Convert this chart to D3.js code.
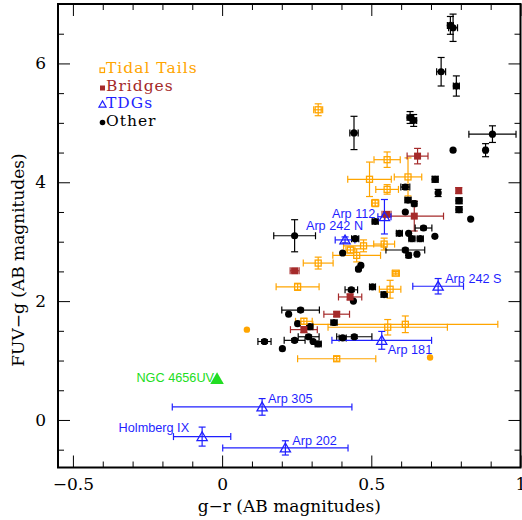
<!DOCTYPE html>
<html>
<head>
<meta charset="utf-8">
<script src="https://cdn.jsdelivr.net/npm/d3@7"></script>
<style>
  body { margin: 0; background: #fff; }
  svg { display: block; }
</style>
</head>
<body>
<svg id="chart" width="522" height="520"></svg>
<script>
// [g-r, FUV-g, err g-r, err FUV-g]
let tails = [
  [0.322, 5.22, 0.015, 0.10],
  [0.553, 4.38, 0.044, 0.13],
  [0.494, 4.05, 0.073, 0.29],
  [0.623, 4.09, 0.046, 0.32],
  [0.553, 3.88, 0.038, 0.08],
  [0.513, 3.65, 0.012, 0.06],
  [0.474, 2.93, 0.067, 0.10],
  [0.543, 2.96, 0.035, 0.10],
  [0.430, 2.86, 0.015, 0.05],
  [0.451, 2.77, 0.080, 0.11],
  [0.322, 2.64, 0.050, 0.10],
  [0.582, 2.47, 0.012, 0.03],
  [0.563, 2.20, 0.036, 0.15],
  [0.253, 2.24, 0.072, 0.06],
  [0.274, 1.66, 0.028, 0.05],
  [0.555, 1.56, 0.200, 0.13],
  [0.614, 1.61, 0.310, 0.14],
  [0.384, 1.03, 0.131, 0.04]
];
let tailsNoErr = [
  [0.083, 1.52],
  [0.697, 1.05]
];
let bridges = [
  [0.655, 4.44, 0.035, 0.13],
  [0.793, 3.86, 0.006, 0.05],
  [0.551, 3.46, 0.015, 0.03],
  [0.644, 3.43, 0.098, 0.25],
  [0.243, 2.51, 0.015, 0.03],
  [0.429, 2.07, 0.039, 0.05],
  [0.384, 1.78, 0.043, 0.04],
  [0.274, 1.52, 0.045, 0.05]
];
let tdgs = [
  [0.544, 3.42, 0.022, 0.29],
  [0.412, 3.03, 0.033, 0.05],
  [0.724, 2.25, 0.085, 0.13],
  [0.535, 1.34, 0.167, 0.15],
  [0.134, 0.22, 0.301, 0.14],
  [-0.067, -0.28, 0.096, 0.16],
  [0.212, -0.47, 0.210, 0.12]
];
let tdgNames = ['Arp 112', 'Arp 242 N', 'Arp 242 S', 'Arp 181', 'Arp 305', 'Holmberg IX', 'Arp 202'];
let ngc = [[-0.017, 0.67]];
let ngcName = 'NGC 4656UV';
let other = [
  [0.765, 6.64, 0.010, 0.15],
  [0.774, 6.60, 0.015, 0.23],
  [0.734, 5.86, 0.015, 0.24],
  [0.785, 5.62, 0.010, 0.17],
  [0.630, 5.09, 0.010, 0.10],
  [0.642, 5.04, 0.010, 0.10],
  [0.442, 4.83, 0.014, 0.28],
  [0.906, 4.81, 0.079, 0.14],
  [0.883, 4.54, 0.005, 0.11],
  [0.774, 4.54, 0, 0],
  [0.714, 4.05, 0.010, 0.05],
  [0.614, 3.92, 0.015, 0.04],
  [0.724, 3.82, 0.005, 0.06],
  [0.794, 3.69, 0.010, 0.05],
  [0.794, 3.54, 0.010, 0.05],
  [0.833, 3.38, 0, 0],
  [0.623, 3.70, 0.010, 0.04],
  [0.644, 3.64, 0.005, 0.04],
  [0.614, 3.50, 0, 0],
  [0.513, 3.34, 0.010, 0.03],
  [0.675, 3.23, 0.028, 0.03],
  [0.594, 3.14, 0.010, 0.03],
  [0.625, 3.14, 0, 0],
  [0.636, 3.05, 0.010, 0.03],
  [0.664, 3.05, 0.010, 0.03],
  [0.713, 3.09, 0, 0],
  [0.614, 2.86, 0.065, 0.03],
  [0.625, 2.77, 0.005, 0.04],
  [0.653, 2.79, 0, 0],
  [0.243, 3.10, 0.070, 0.27],
  [0.446, 3.05, 0.012, 0.03],
  [0.404, 2.81, 0, 0],
  [0.457, 2.54, 0.005, 0.03],
  [0.465, 2.60, 0, 0],
  [0.433, 2.19, 0.021, 0.03],
  [0.504, 2.24, 0.010, 0.03],
  [0.543, 2.11, 0.010, 0.04],
  [0.440, 2.00, 0, 0],
  [0.263, 1.85, 0.063, 0.03],
  [0.223, 1.78, 0, 0],
  [0.375, 1.64, 0.010, 0.03],
  [0.253, 1.62, 0, 0],
  [0.294, 1.57, 0.010, 0.03],
  [0.404, 1.38, 0.012, 0.03],
  [0.443, 1.40, 0.059, 0.03],
  [0.142, 1.32, 0.022, 0.03],
  [0.202, 1.20, 0, 0],
  [0.243, 1.34, 0.035, 0.03],
  [0.290, 1.40, 0.035, 0.03],
  [0.305, 1.32, 0, 0],
  [0.322, 1.28, 0.010, 0.03]
];
let legendNames = ['Tidal Tails', 'Bridges', 'TDGs', 'Other'];
let xMajor = [-0.5, 0, 0.5, 1];
let yMajor = [0, 2, 4, 6];

let orange = '#ffa500', brown = '#a52a2a', blue = '#1f1fff', green = '#22dd22';
let serif = "'DejaVu Serif', serif";
let sans = "'Liberation Sans', Arial, sans-serif";

let svg = d3.select('#chart');
let mLeft = 58, mRight = 520.5, mTop = 4, mBottom = 467.5;

let x = d3.scaleLinear().domain([-0.55, 1.0]).range([mLeft, mRight]);
let y = d3.scaleLinear().domain([-0.8, 7.0]).range([mBottom, mTop]);

let xMinor = d3.range(-5, 11).map(d => d / 10).filter(d => xMajor.indexOf(d) < 0);
let yMinor = d3.range(-1, 15).map(d => d / 2).filter(d => d >= -0.8 && yMajor.indexOf(d) < 0);

function axisStyle(g) {
  g.select('.domain').remove();
  g.selectAll('line').attr('stroke', '#000').attr('stroke-width', 1);
}

// bottom axis
svg.append('g').attr('transform', `translate(0,${mBottom})`)
  .call(d3.axisBottom(x).tickValues(xMajor).tickSize(-12).tickFormat(d3.format('~g')))
  .call(axisStyle)
  .call(g => g.selectAll('text').attr('y', 22).attr('dy', 0)
    .attr('font-family', serif).attr('font-size', 17).attr('fill', '#000'));
svg.append('g').attr('transform', `translate(0,${mBottom})`)
  .call(d3.axisBottom(x).tickValues(xMinor).tickSize(-6).tickFormat(''))
  .call(axisStyle);
// top axis
svg.append('g').attr('transform', `translate(0,${mTop})`)
  .call(d3.axisTop(x).tickValues(xMajor).tickSize(-12).tickFormat(''))
  .call(axisStyle);
svg.append('g').attr('transform', `translate(0,${mTop})`)
  .call(d3.axisTop(x).tickValues(xMinor).tickSize(-6).tickFormat(''))
  .call(axisStyle);
// left axis
svg.append('g').attr('transform', `translate(${mLeft},0)`)
  .call(d3.axisLeft(y).tickValues(yMajor).tickSize(-12).tickFormat(d3.format('~g')))
  .call(axisStyle)
  .call(g => g.selectAll('text').attr('x', -12)
    .attr('font-family', serif).attr('font-size', 17).attr('fill', '#000'));
svg.append('g').attr('transform', `translate(${mLeft},0)`)
  .call(d3.axisLeft(y).tickValues(yMinor).tickSize(-6).tickFormat(''))
  .call(axisStyle);
// right axis
svg.append('g').attr('transform', `translate(${mRight},0)`)
  .call(d3.axisRight(y).tickValues(yMajor).tickSize(-12).tickFormat(''))
  .call(axisStyle);
svg.append('g').attr('transform', `translate(${mRight},0)`)
  .call(d3.axisRight(y).tickValues(yMinor).tickSize(-6).tickFormat(''))
  .call(axisStyle);

// frame
svg.append('rect')
  .attr('x', mLeft).attr('y', mTop)
  .attr('width', mRight - mLeft).attr('height', mBottom - mTop)
  .attr('fill', 'none').attr('stroke', '#000').attr('stroke-width', 2);

// axis titles
svg.append('text')
  .attr('x', (mLeft + mRight) / 2).attr('y', 512)
  .attr('text-anchor', 'middle')
  .attr('font-family', serif).attr('font-size', 17)
  .text('g\u2212r (AB magnitudes)');
svg.append('text')
  .attr('transform', 'translate(24,260) rotate(-90)')
  .attr('text-anchor', 'middle')
  .attr('font-family', serif).attr('font-size', 17)
  .text('FUV\u2212g (AB magnitudes)');

// error bars
let cap = 3.5;
function errorBars(data, color) {
  let g = svg.append('g').attr('stroke', color).attr('stroke-width', 1.2).attr('fill', 'none');
  data.forEach(d => {
    let cx = x(d[0]), cy = y(d[1]);
    if (d[2] > 0) {
      let x0 = x(d[0] - d[2]), x1 = x(d[0] + d[2]);
      g.append('line').attr('x1', x0).attr('x2', x1).attr('y1', cy).attr('y2', cy);
      g.append('line').attr('x1', x0).attr('x2', x0).attr('y1', cy - cap).attr('y2', cy + cap);
      g.append('line').attr('x1', x1).attr('x2', x1).attr('y1', cy - cap).attr('y2', cy + cap);
    }
    if (d[3] > 0) {
      let y0 = y(d[1] - d[3]), y1 = y(d[1] + d[3]);
      g.append('line').attr('x1', cx).attr('x2', cx).attr('y1', y0).attr('y2', y1);
      g.append('line').attr('x1', cx - cap).attr('x2', cx + cap).attr('y1', y0).attr('y2', y0);
      g.append('line').attr('x1', cx - cap).attr('x2', cx + cap).attr('y1', y1).attr('y2', y1);
    }
  });
}

errorBars(tails, orange);
errorBars(bridges, brown);
errorBars(other, '#000');
errorBars(tdgs, blue);

// markers
svg.append('g').selectAll('circle').data(other).join('circle')
  .attr('cx', d => x(d[0])).attr('cy', d => y(d[1])).attr('r', 3.6).attr('fill', '#000');

svg.append('g').selectAll('rect').data(tails).join('rect')
  .attr('x', d => x(d[0]) - 3).attr('y', d => y(d[1]) - 3)
  .attr('width', 6).attr('height', 6)
  .attr('fill', 'none').attr('stroke', orange).attr('stroke-width', 1.3);

svg.append('g').selectAll('circle').data(tailsNoErr).join('circle')
  .attr('cx', d => x(d[0])).attr('cy', d => y(d[1])).attr('r', 3.2).attr('fill', orange);

svg.append('g').selectAll('rect').data(bridges).join('rect')
  .attr('x', d => x(d[0]) - 3.5).attr('y', d => y(d[1]) - 3.5)
  .attr('width', 7).attr('height', 7).attr('fill', brown);

let tri = d3.symbol().type(d3.symbolTriangle).size(45);
svg.append('g').selectAll('path').data(tdgs).join('path')
  .attr('transform', d => `translate(${x(d[0])},${y(d[1]) + 1})`)
  .attr('d', tri).attr('fill', 'none').attr('stroke', blue).attr('stroke-width', 1.3);

svg.append('g').selectAll('path').data(ngc).join('path')
  .attr('transform', d => `translate(${x(d[0])},${y(d[1])})`)
  .attr('d', d3.symbol().type(d3.symbolTriangle).size(80)).attr('fill', green);

// point labels: [dx, dy, anchor]
let labelPos = [
  [-9, 1, 'end'],
  [18, -10, 'end'],
  [7, -3, 'start'],
  [6, 14, 'start'],
  [6, -4, 'start'],
  [-13, -5, 'end'],
  [7, -3, 'start']
];
svg.append('g').selectAll('text').data(tdgs).join('text')
  .attr('x', (d, i) => x(d[0]) + labelPos[i][0])
  .attr('y', (d, i) => y(d[1]) + labelPos[i][1])
  .attr('text-anchor', (d, i) => labelPos[i][2])
  .attr('font-family', sans).attr('font-size', 12.7).attr('fill', blue)
  .text((d, i) => tdgNames[i]);
svg.append('text')
  .attr('x', x(ngc[0][0]) - 3).attr('y', y(ngc[0][1]) + 2)
  .attr('text-anchor', 'end')
  .attr('font-family', sans).attr('font-size', 12.7).attr('fill', green)
  .text(ngcName);

// legend
let legendColors = [orange, brown, blue, '#000'];
let lg = svg.append('g').attr('transform', 'translate(102,73)');
legendNames.forEach((name, i) => {
  let row = lg.append('g').attr('transform', `translate(0,${i * 17.5})`);
  if (i == 0) row.append('rect').attr('x', -2).attr('y', -5).attr('width', 4.5).attr('height', 4.5)
    .attr('fill', 'none').attr('stroke', orange).attr('stroke-width', 1.2);
  if (i == 1) row.append('rect').attr('x', -2).attr('y', -5).attr('width', 5).attr('height', 5).attr('fill', brown);
  if (i == 2) row.append('path').attr('transform', 'translate(0.5,-3)')
    .attr('d', d3.symbol().type(d3.symbolTriangle).size(22)).attr('fill', 'none')
    .attr('stroke', blue).attr('stroke-width', 1.2);
  if (i == 3) row.append('circle').attr('cx', 0.5).attr('cy', -3).attr('r', 2.8).attr('fill', '#000');
  row.append('text').attr('x', 4).attr('y', 0)
    .attr('font-family', serif).attr('font-size', 15.5).attr('letter-spacing', 1)
    .attr('fill', legendColors[i])
    .text(name);
});
</script>
</body>
</html>
